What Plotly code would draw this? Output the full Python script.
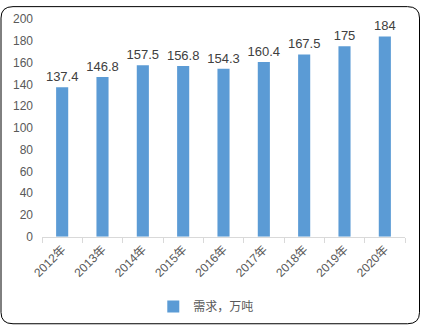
import plotly.graph_objects as go

years = ["2012年", "2013年", "2014年", "2015年", "2016年", "2017年", "2018年", "2019年", "2020年"]
demand = [137.4, 146.8, 157.5, 156.8, 154.3, 160.4, 167.5, 175, 184]
labels = ["137.4", "146.8", "157.5", "156.8", "154.3", "160.4", "167.5", "175", "184"]
series_name = "需求，万吨"

W, H = 421, 336
L, R, T, B = 42, 16, 14, 93
pw, ph = W - L - R, H - T - B

def px(x):
    return (x - L) / pw

def py(y):
    return (H - B - y) / ph

def rounded_rect(x0, y0, x1, y1, r):
    pts = []
    pts.append(f"M {px(x0 + r)},{py(y0)}")
    pts.append(f"L {px(x1 - r)},{py(y0)}")
    pts.append(f"Q {px(x1)},{py(y0)} {px(x1)},{py(y0 + r)}")
    pts.append(f"L {px(x1)},{py(y1 - r)}")
    pts.append(f"Q {px(x1)},{py(y1)} {px(x1 - r)},{py(y1)}")
    pts.append(f"L {px(x0 + r)},{py(y1)}")
    pts.append(f"Q {px(x0)},{py(y1)} {px(x0)},{py(y1 - r)}")
    pts.append(f"L {px(x0)},{py(y0 + r)}")
    pts.append(f"Q {px(x0)},{py(y0)} {px(x0 + r)},{py(y0)}")
    pts.append("Z")
    return " ".join(pts)

fig = go.Figure()
fig.add_trace(go.Bar(
    x=years, y=demand, name=series_name,
    marker=dict(color="#5b9bd5", line=dict(width=0)),
    text=labels, textposition="outside", constraintext="none",
    textfont=dict(color="#404040", size=13, family="Liberation Sans, Arial"),
    cliponaxis=False,
))

fig.update_layout(
    width=W, height=H,
    margin=dict(l=L, r=R, t=T, b=B),
    paper_bgcolor="white", plot_bgcolor="white",
    bargap=0.7,
    font=dict(family="Liberation Sans, Noto Sans CJK SC, Arial", color="#595959", size=12),
    showlegend=True,
    legend=dict(orientation="h", xref="container", yref="container", x=0.49, xanchor="center",
                y=0.045, yanchor="bottom", font=dict(size=12, color="#595959"),
                itemwidth=30),
    xaxis=dict(
        showline=True, linecolor="#d9d9d9", linewidth=1,
        ticks="outside", tickson="boundaries", ticklen=5, tickcolor="#d9d9d9",
        tickangle=-45, tickfont=dict(size=12, color="#595959"),
        showgrid=False,
    ),
    yaxis=dict(
        range=[0, 200], dtick=20, showgrid=False, showline=False, zeroline=False,
        ticks="", tickfont=dict(size=12, color="#595959"),
        ticklabelstandoff=8,
    ),
    shapes=[dict(type="path", xref="paper", yref="paper",
                 path=rounded_rect(1, 1, W - 1.5, H - 1.5, 12),
                 line=dict(color="#000000", width=1), fillcolor="rgba(0,0,0,0)",
                 layer="above")],
)

fig.write_html("out.html")
